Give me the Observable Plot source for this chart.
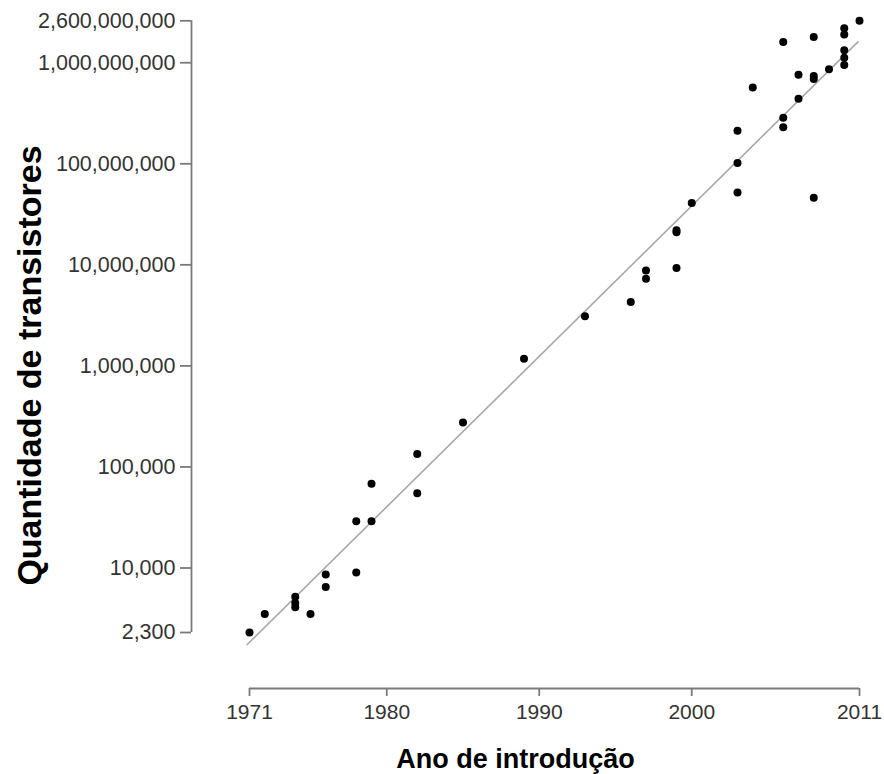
<!DOCTYPE html>
<html>
<head>
<meta charset="utf-8">
<script src="https://cdn.jsdelivr.net/npm/d3@7"></script>
<script src="https://cdn.jsdelivr.net/npm/@observablehq/plot@0.6"></script>
<style>
  html, body { margin: 0; padding: 0; background: white; }
</style>
</head>
<body>
<div id="chart"></div>
<script>
// Ano de introdução (year) and transistor counts
const years = [
  1971, 1972, 1974, 1974, 1974, 1975, 1976, 1976, 1978, 1978,
  1979, 1979, 1982, 1982, 1985, 1989, 1993, 1996, 1997, 1997,
  1999, 1999, 1999, 2000, 2003, 2003, 2003, 2004, 2006, 2006,
  2006, 2007, 2007, 2008, 2008, 2008, 2008, 2009, 2010, 2010,
  2010, 2010, 2010, 2011
];
const counts = [
  2300, 3500, 5200, 4500, 4100, 3510, 8600, 6500, 9000, 29000,
  29000, 68000, 55000, 134000, 275000, 1180000, 3100000, 4300000, 8800000, 7300000,
  21000000, 22000000, 9300000, 41000000, 52000000, 102000000, 212000000, 570000000, 1600000000, 285000000,
  230000000, 760000000, 440000000, 1800000000, 690000000, 740000000, 46000000, 860000000, 2200000000, 1900000000,
  1330000000, 1120000000, 950000000, 2600000000
];

// Trend line (end points)
const trendYears = [1970.85, 2010.9];
const trendCounts = [1750, 1610000000];

// Tick labels
const xTicks = [1971, 1980, 1990, 2000, 2011];
const yTicks = [2300, 10000, 100000, 1000000, 10000000, 100000000, 1000000000, 2600000000];

const xTitle = "Ano de introdução";
const yTitle = "Quantidade de transistores";

const points = years.map((y, i) => ({year: y, count: counts[i]}));
const trend = trendYears.map((y, i) => ({year: y, count: trendCounts[i]}));

const axisGrey = "#7a7a7a";
const labelGrey = "#333333";

const chart = Plot.plot({
  width: 884,
  height: 774,
  marginLeft: 191,
  marginRight: 25,
  marginTop: 20,
  marginBottom: 86,
  style: {fontFamily: "'Liberation Sans', Arial, sans-serif", background: "white"},
  x: {domain: [1971, 2011], range: [249, 859]},
  y: {type: "log", domain: [2300, 2600000000], range: [632, 20.3]},
  marks: [
    // y axis (R style: line spans first to last tick)
    Plot.ruleX([xTicks[0]], {y1: yTicks[0], y2: yTicks[yTicks.length - 1], dx: -58, stroke: axisGrey, strokeWidth: 1.8}),
    Plot.axisY(yTicks, {
      anchor: "left", label: null, tickSize: 11, tickPadding: 5,
      tickFormat: d3.format(","), fontSize: 21.5,
      stroke: axisGrey, strokeWidth: 1.8, fill: labelGrey
    }),
    // x axis
    Plot.ruleY([yTicks[0]], {x1: xTicks[0], x2: xTicks[xTicks.length - 1], dy: 56, stroke: axisGrey, strokeWidth: 1.8}),
    Plot.axisX(xTicks, {
      anchor: "bottom", label: null, tickSize: 8, tickPadding: 8,
      tickFormat: d => String(d), fontSize: 21,
      stroke: axisGrey, strokeWidth: 1.8, fill: labelGrey
    }),
    // trend line
    Plot.line(trend, {x: "year", y: "count", stroke: "#a8a8a8", strokeWidth: 1.6}),
    // data points
    Plot.dot(points, {x: "year", y: "count", r: 4, fill: "black"}),
    // titles
    Plot.text([xTitle], {text: d => d, frameAnchor: "bottom", textAnchor: "middle", lineAnchor: "bottom", dx: -10, dy: 79,
      fontSize: 27, fontWeight: "bold", fill: "black"}),
    Plot.text([yTitle], {text: d => d, frameAnchor: "left", textAnchor: "middle", lineAnchor: "bottom", rotate: -90, dx: -151, dy: 11,
      fontSize: 34, fontWeight: "bold", fill: "black"})
  ]
});

document.getElementById("chart").appendChild(chart);
</script>
</body>
</html>
